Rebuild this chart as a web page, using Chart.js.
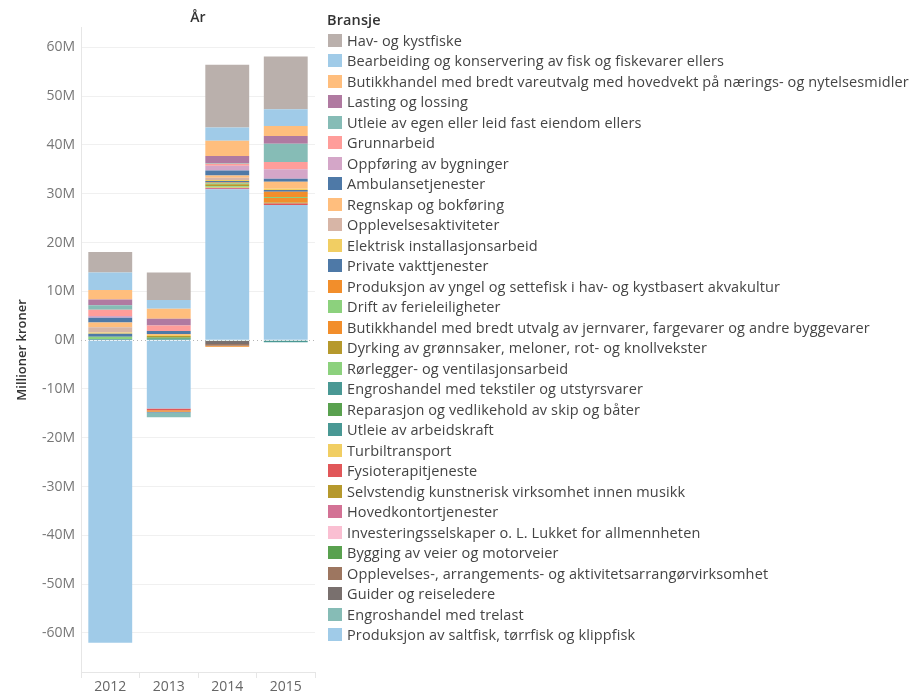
<!DOCTYPE html>
<html lang="no">
<head>
  <meta charset="UTF-8" />
  <title>Bransje per år</title>
  <script src="https://cdn.jsdelivr.net/npm/chart.js"></script>
  <style>
    body {
      margin: 0;
      background: #fff;
      font-family: 'Open Sans', sans-serif;
    }
    .wrap {
      position: relative;
      width: 912px;
      height: 692px;
    }
    #legend {
      position: absolute;
      left: 327px;
      top: 10px;
      color: #444;
      font-size: 14.5px;
      letter-spacing: 0.12px;
    }
    #legend .title {
      font-weight: 600;
      color: #333;
      height: 20px;
      line-height: 20px;
    }
    #legend .item {
      height: 20.5px;
      display: flex;
      align-items: center;
      white-space: nowrap;
    }
    #legend .box {
      width: 14px;
      height: 13px;
      margin-left: 1px;
      margin-right: 5px;
    }
  </style>
</head>
<body>
  <div class="wrap">
    <canvas id="chart" width="912" height="692"></canvas>
    <div id="legend"></div>
  </div>

  <script>
    // years on the x axis
    const years = ['2012', '2013', '2014', '2015'];

    // industries, in legend order (top of legend = top of stack)
    const bransjer = [
      'Hav- og kystfiske',
      'Bearbeiding og konservering av fisk og fiskevarer ellers',
      'Butikkhandel med bredt vareutvalg med hovedvekt på nærings- og nytelsesmidler',
      'Lasting og lossing',
      'Utleie av egen eller leid fast eiendom ellers',
      'Grunnarbeid',
      'Oppføring av bygninger',
      'Ambulansetjenester',
      'Regnskap og bokføring',
      'Opplevelsesaktiviteter',
      'Elektrisk installasjonsarbeid',
      'Private vakttjenester',
      'Produksjon av yngel og settefisk i hav- og kystbasert akvakultur',
      'Drift av ferieleiligheter',
      'Butikkhandel med bredt utvalg av jernvarer, fargevarer og andre byggevarer',
      'Dyrking av grønnsaker, meloner, rot- og knollvekster',
      'Rørlegger- og ventilasjonsarbeid',
      'Engroshandel med tekstiler og utstyrsvarer',
      'Reparasjon og vedlikehold av skip og båter',
      'Utleie av arbeidskraft',
      'Turbiltransport',
      'Fysioterapitjeneste',
      'Selvstendig kunstnerisk virksomhet innen musikk',
      'Hovedkontortjenester',
      'Investeringsselskaper o. L. Lukket for allmennheten',
      'Bygging av veier og motorveier',
      'Opplevelses-, arrangements- og aktivitetsarrangørvirksomhet',
      'Guider og reiseledere',
      'Engroshandel med trelast',
      'Produksjon av saltfisk, tørrfisk og klippfisk'
    ];

    const farger = [
      '#BAB0AC', '#A0CBE8', '#FFBE7D', '#B07AA1', '#86BCB6',
      '#FF9D9A', '#D4A6C8', '#4E79A7', '#FFBE7D', '#D7B5A6',
      '#F1CE63', '#4E79A7', '#F28E2B', '#8CD17D', '#F28E2B',
      '#B6992D', '#8CD17D', '#499894', '#59A14F', '#499894',
      '#F1CE63', '#E15759', '#B6992D', '#D37295', '#FABFD2',
      '#59A14F', '#9D7660', '#79706E', '#86BCB6', '#A0CBE8'
    ];

    // million kroner per industry (same order as bransjer), one array per year
    const verdier2012 = [4.2, 3.6, 1.9, 1.2, 0.9, 1.3, 0.35, 1.0, 0.95, 1.1,
                         0.25, 0.6, 0, 0.25, 0, 0, 0.2, 0, 0, 0.15,
                         0, 0, 0, 0, 0, 0, 0, 0, 0.1, -62];
    const verdier2013 = [5.6, 1.8, 2.05, 1.4, -0.95, 1.15, 0, 0.6, 0.2, 0,
                         0.2, -0.2, -0.3, 0, 0, 0.3, 0, 0, 0.25, 0.3,
                         0, -0.35, 0, 0, 0, 0, 0, 0, 0, -14];
    const verdier2014 = [12.9, 2.7, 3.1, 1.45, 0.15, 0.4, 1.0, 1.0, 0.5, 0.45,
                         0.2, 0.3, 0.15, 0.2, -0.2, 0.4, 0.2, 0, 0, 0,
                         0.1, 0, 0.1, 0.25, 0, 0, -0.35, -0.6, -0.2, 30.9];
    const verdier2015 = [10.8, 3.4, 2.05, 1.6, 3.75, 1.5, 1.95, 0.6, 1.45, 0,
                         0.25, 0.35, 1.05, 0.2, 0.95, 0.2, 0, -0.3, 0, 0,
                         0, 0.3, 0, 0, 0, -0.15, 0, 0, 0, 27.7];

    const yTicks = [-60, -50, -40, -30, -20, -10, 0, 10, 20, 30, 40, 50, 60];

    // Chart.js stacks the first dataset nearest zero, so go through the legend backwards
    const datasets = [];
    for (let i = bransjer.length - 1; i >= 0; i--) {
      datasets.push({
        label: bransjer[i],
        data: [verdier2012[i], verdier2013[i], verdier2014[i], verdier2015[i]],
        backgroundColor: farger[i],
        borderWidth: 0,
        categoryPercentage: 1,
        barPercentage: 0.75
      });
    }

    // dotted zero line like the original
    const zeroLine = {
      id: 'zeroLine',
      beforeDatasetsDraw(chart) {
        const y = Math.round(chart.scales.y.getPixelForValue(0)) + 0.5;
        const ctx = chart.ctx;
        ctx.save();
        ctx.strokeStyle = '#b5b5b5';
        ctx.lineWidth = 1;
        ctx.setLineDash([1, 3]);
        ctx.beginPath();
        ctx.moveTo(chart.chartArea.left, y);
        ctx.lineTo(chart.chartArea.right, y);
        ctx.stroke();
        ctx.restore();
      }
    };

    new Chart(document.getElementById('chart'), {
      type: 'bar',
      data: { labels: years, datasets: datasets },
      plugins: [zeroLine],
      options: {
        responsive: false,
        animation: false,
        layout: { padding: { left: 0, right: 597, top: 0, bottom: 0 } },
        plugins: {
          legend: { display: false },
          tooltip: { enabled: false },
          title: {
            display: true,
            text: 'År',
            fullSize: false,
            color: '#333',
            font: { family: 'Open Sans', size: 14, weight: '600' },
            padding: { top: 10, bottom: 1 }
          }
        },
        scales: {
          x: {
            stacked: true,
            grid: {
              offset: true,
              drawOnChartArea: false,
              drawTicks: true,
              tickLength: 6,
              color: '#e6e6e6'
            },
            border: { display: true, color: '#e6e6e6' },
            ticks: {
              color: '#666',
              padding: 1,
              font: { family: 'Open Sans', size: 14 }
            },
            afterFit(scale) { scale.height = 20; }
          },
          y: {
            stacked: true,
            min: -68,
            max: 64,
            afterBuildTicks(scale) {
              scale.ticks = yTicks.map(v => ({ value: v }));
            },
            grid: {
              drawTicks: false,
              color: ctx => ctx.tick && ctx.tick.value === 0 ? 'rgba(0,0,0,0)' : '#f0f0f0'
            },
            border: { display: true, color: '#e6e6e6' },
            ticks: {
              color: '#777',
              padding: 6,
              font: { family: 'Open Sans', size: 14 },
              callback: v => v + 'M'
            },
            title: {
              display: true,
              text: 'Millioner kroner',
              color: '#333',
              font: { family: 'Open Sans', size: 13, weight: '600' },
              padding: { top: 14, bottom: 0 }
            },
            afterFit(scale) { scale.width = 81; }
          }
        }
      }
    });

    // legend built from the same lists
    const legend = document.getElementById('legend');
    let html = '<div class="title">Bransje</div>';
    bransjer.forEach((b, i) => {
      html += '<div class="item"><span class="box" style="background:' + farger[i] + '"></span>' + b + '</div>';
    });
    legend.innerHTML = html;
  </script>
</body>
</html>
